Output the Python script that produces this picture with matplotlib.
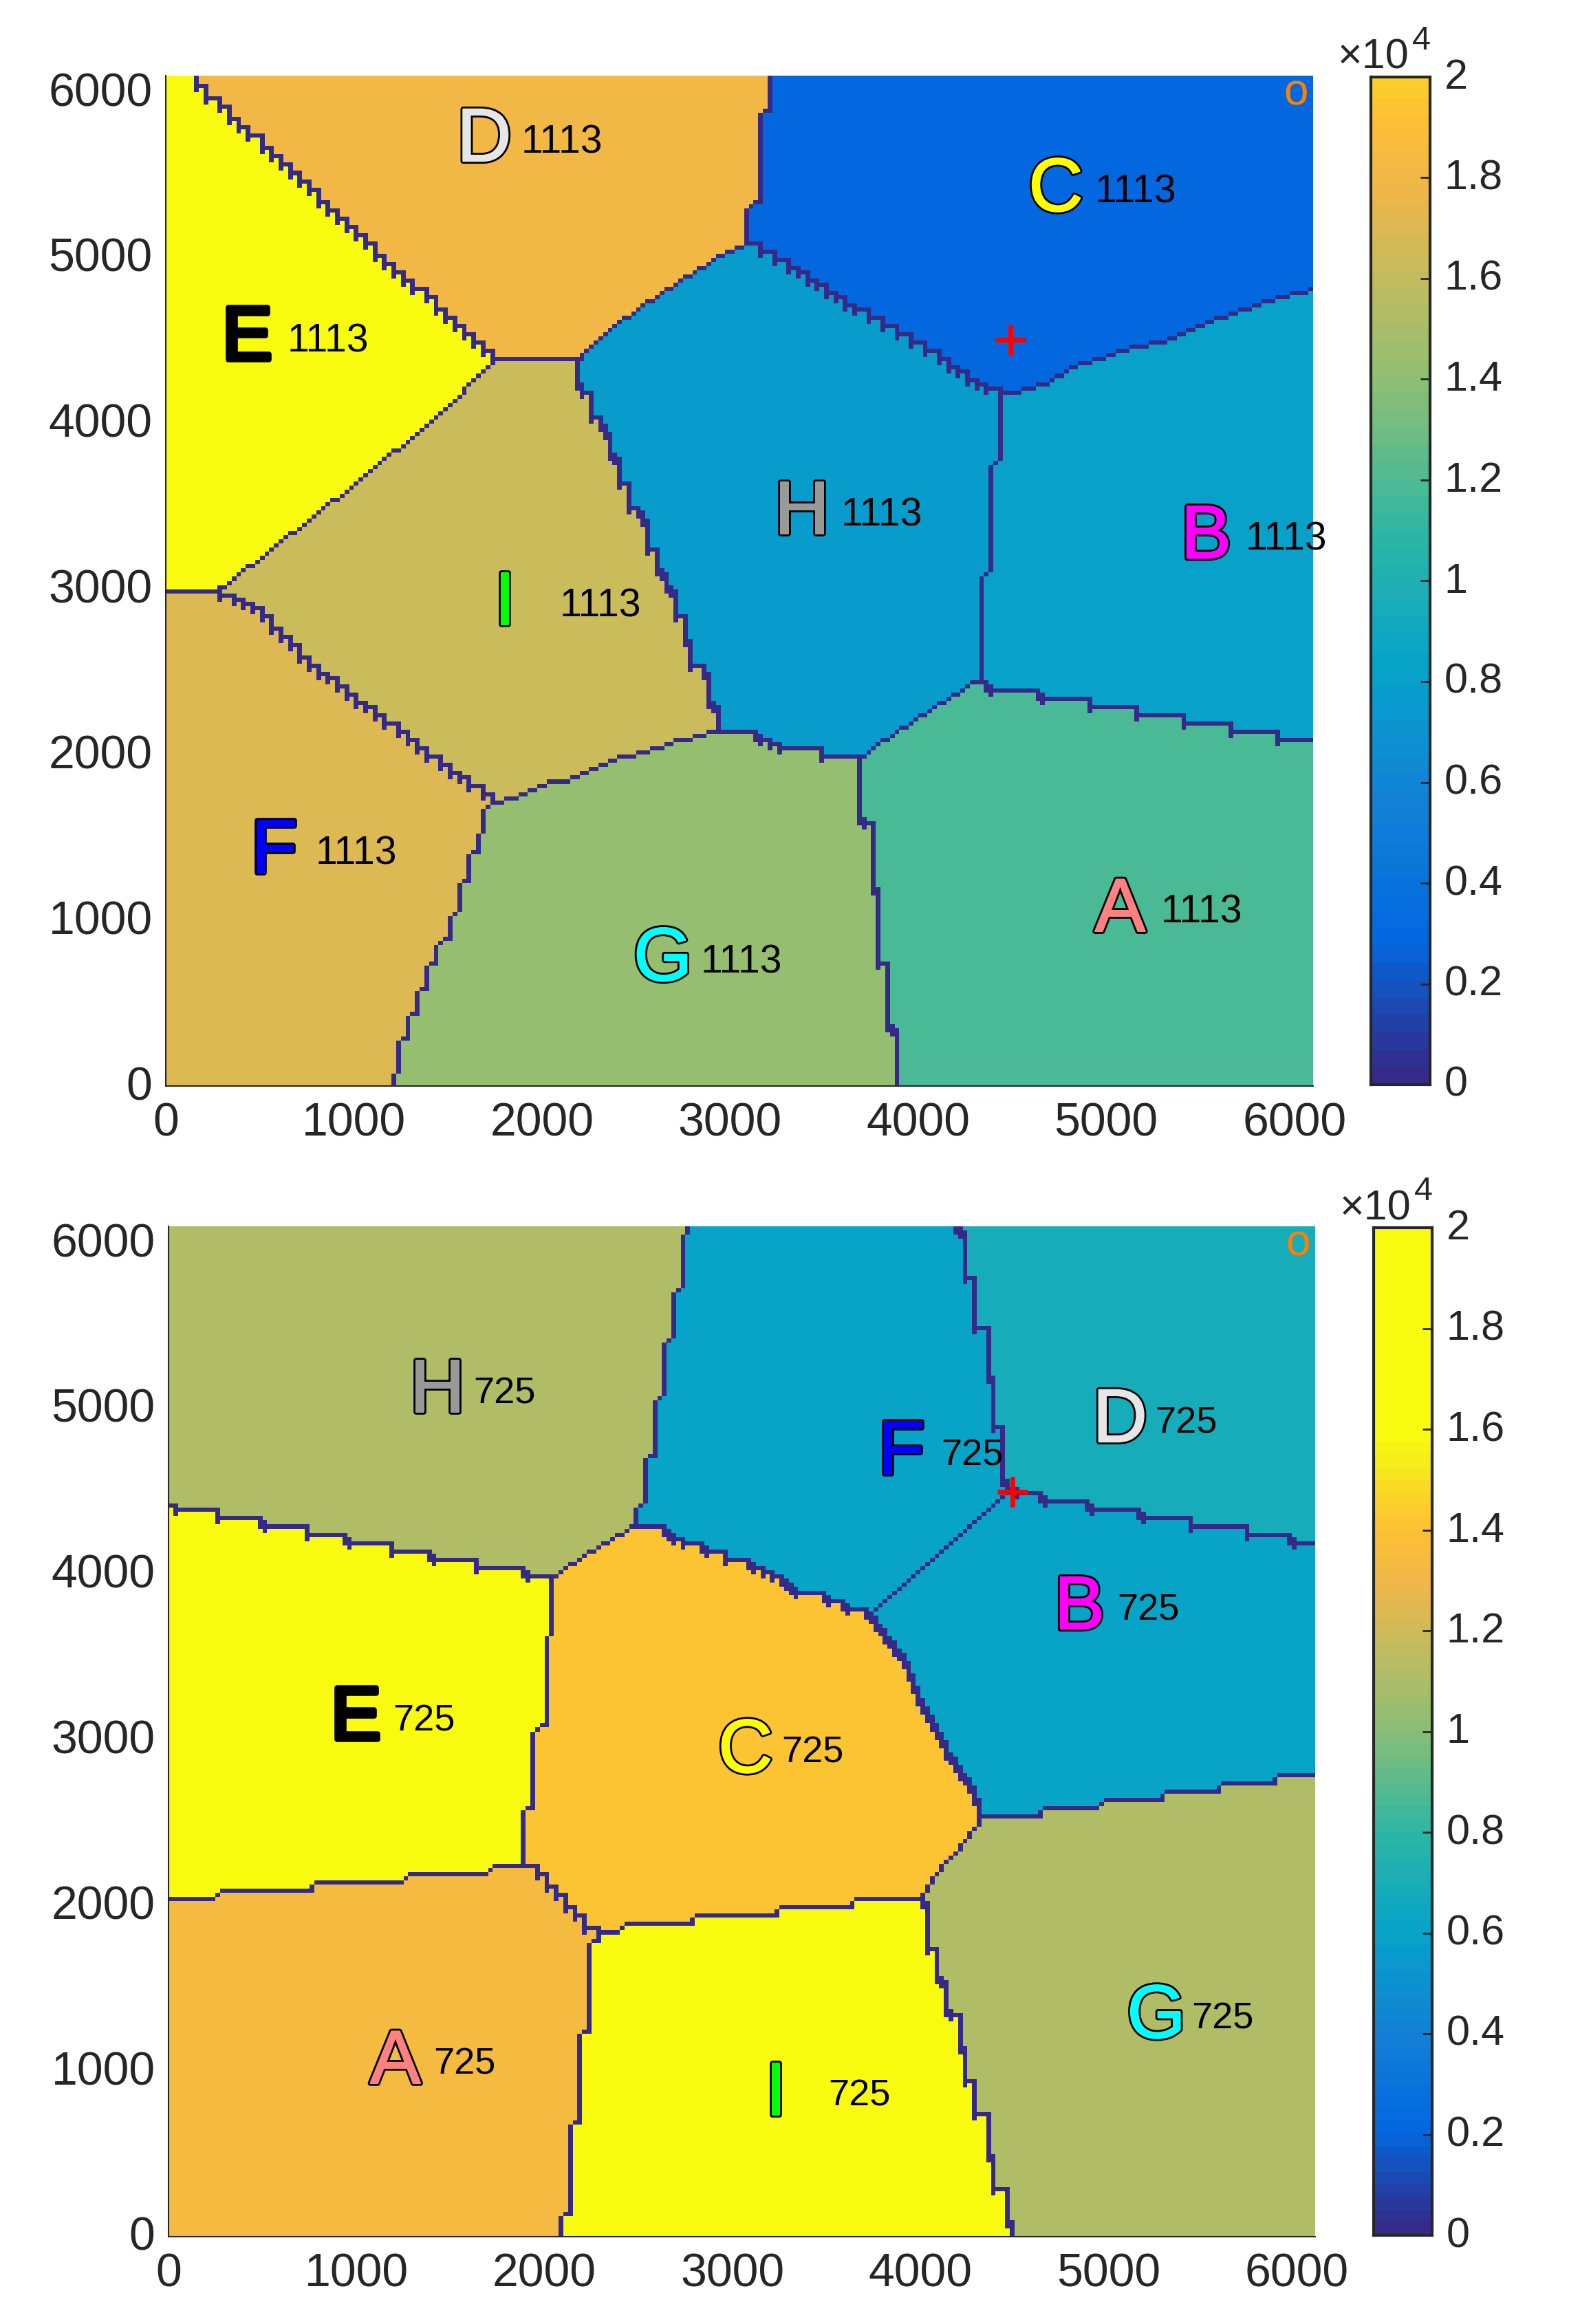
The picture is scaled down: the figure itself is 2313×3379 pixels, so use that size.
import numpy as np
import matplotlib
matplotlib.use("Agg")
import matplotlib.pyplot as plt
from matplotlib.path import Path
from matplotlib.colors import LinearSegmentedColormap
from matplotlib.transforms import ScaledTranslation
import matplotlib.patheffects as pe

plt.rcParams['font.family'] = ['Liberation Sans', 'DejaVu Sans']

W, H = 2313, 3379
LIM = 6100
CELL = 25
DARK = '#262626'

parula_pos = [0, .125, .25, .375, .5, .625, .75, .8125, .875, .92, .96, 1]
parula_col = ['#352A87', '#0368E0', '#1481D6', '#06A4CA', '#2EB7A4', '#87BF77',
              '#CDBB5B', '#F0B74A', '#FDBF36', '#FCD22A', '#F6EA1C', '#F9FB0E']

names = list("ABCDEFGHI")
letter_colors = ['#FF8080', '#FF00FF', '#FFFF00', '#E6E6E6', '#000000',
                 '#0000FF', '#00FFFF', '#999999', '#00FF00']

# ---------- upper map: shared borders between cells ----------
T_ED = [(92, 6100), (390, 5785), (1728, 4378)]
T_DI = [(1728, 4378), (1760, 4385), (2175, 4385)]
T_DH = [(2175, 4385), (2310, 4543), (2554, 4745), (2756, 4891), (2959, 5038), (3090, 5094)]
T_DC = [(3090, 5094), (3090, 5330), (3150, 5340), (3150, 5890), (3195, 5900), (3195, 6100)]
T_CH = [(3090, 5094), (3149, 5038), (3297, 4948), (3455, 4835), (3657, 4689), (3805, 4587),
        (3953, 4486), (4100, 4385), (4302, 4239), (4423, 4194)]
T_CB = [(4423, 4194), (4517, 4198), (4665, 4250), (4800, 4340), (4947, 4396), (5055, 4441),
        (5324, 4509), (5445, 4576), (5593, 4644), (5741, 4700), (5848, 4745), (5996, 4790), (6100, 4824)]
T_HB = [(4423, 4194), (4431, 3788), (4383, 3777), (4383, 3113), (4334, 3090), (4334, 2454)]
T_AB = [(4334, 2454), (4396, 2397), (4625, 2397), (4652, 2348), (4894, 2348), (4907, 2296),
        (5136, 2296), (5157, 2247), (5391, 2247), (5405, 2195), (5641, 2195), (5660, 2145),
        (5889, 2145), (5902, 2098), (6100, 2098)]
T_AH = [(3684, 1981), (3805, 2093), (3939, 2195), (4141, 2341), (4275, 2438), (4334, 2454)]
T_GH = [(2940, 2150), (3108, 2143), (3149, 2100), (3297, 2044), (3455, 2048), (3495, 1997),
        (3643, 1997), (3684, 1981)]
T_AG = [(3684, 1981), (3684, 1609), (3743, 1598), (3743, 1204), (3791, 1193), (3791, 754),
        (3840, 743), (3840, 360), (3891, 344), (3891, 0)]
T_IH = [(2175, 4385), (2196, 4205), (2243, 4194), (2243, 4059), (2297, 4048), (2345, 3946),
        (2345, 3811), (2399, 3800), (2399, 3653), (2445, 3642), (2445, 3507), (2499, 3496),
        (2548, 3406), (2548, 3259), (2594, 3248), (2594, 3113), (2648, 3102), (2648, 3028),
        (2694, 2994), (2694, 2859), (2743, 2848), (2743, 2701), (2792, 2690), (2792, 2555),
        (2846, 2544), (2892, 2442), (2892, 2307), (2940, 2296), (2940, 2150)]
T_EI = [(241, 2994), (335, 3057), (890, 3552), (1390, 4014), (1728, 4378)]
T_EF = [(0, 2994), (241, 2994)]
T_IF = [(241, 2994), (444, 2893), (755, 2544), (1106, 2240), (1499, 1902), (1728, 1722)]
T_IG = [(1728, 1722), (1837, 1745), (1985, 1824), (2134, 1857), (2256, 1925), (2391, 1981),
        (2540, 2026), (2689, 2082), (2846, 2127), (2940, 2150)]
T_FG = [(1728, 1722), (1688, 1677), (1688, 1553), (1647, 1542), (1647, 1418), (1593, 1396),
        (1593, 1249), (1545, 1238), (1545, 1058), (1493, 1047), (1493, 900), (1439, 878),
        (1439, 754), (1390, 736), (1390, 597), (1342, 585), (1342, 461), (1290, 439),
        (1290, 304), (1242, 281), (1242, 113), (1193, 90), (1193, 0)]

top_values = [11700, 7950, 2750, 17875, 22000, 17160, 14200, 7600, 16280]
top_letters_x = [5074, 5531, 4732, 1693, 433, 576, 2643, 3383, 1804]
top_letters_y = [1092, 3345, 5441, 5742, 4543, 1447, 795, 3491, 2944]
top_count_x = [5289, 5741, 4939, 1891, 646, 795, 2843, 3590, 2094]
top_count_y = [1074, 3322, 5420, 5720, 4520, 1425, 770, 3469, 2920]
top_count_label = "1113"
top_count_size = 41
top_clim = (0, 22000)
top_plus = (4490, 4504)

# ---------- lower map: shared borders between cells ----------
B_HE = [(0, 4430), (51, 4396), (241, 4396), (254, 4340), (471, 4340), (506, 4291), (714, 4291),
        (755, 4239), (917, 4239), (952, 4194), (1161, 4194), (1201, 4144), (1364, 4144),
        (1404, 4093), (1607, 4093), (1653, 4041), (1864, 4041), (1905, 3992), (2040, 3992)]
B_HC = [(2040, 3992), (2081, 4025), (2162, 4093), (2352, 4228), (2460, 4291), (2487, 4295)]
B_HF = [(2487, 4295), (2492, 4419), (2535, 4453), (2535, 4712), (2581, 4734), (2581, 5072),
        (2636, 5094), (2636, 5420), (2682, 5443), (2682, 5724), (2739, 5747), (2739, 6062), (2757, 6100)]
B_FC = [(2487, 4295), (2622, 4284), (2649, 4250), (2744, 4194), (2838, 4194), (2852, 4144),
        (2947, 4138), (2960, 4093), (3050, 4093), (3150, 4036), (3244, 3992), (3348, 3890),
        (3482, 3890), (3509, 3838), (3590, 3838), (3604, 3789), (3684, 3789), (3730, 3770)]
B_FB = [(3730, 3770), (4460, 4510)]
B_DF = [(4460, 4510), (4437, 4599), (4437, 4892), (4392, 4903), (4392, 5195), (4343, 5206),
        (4343, 5488), (4290, 5499), (4290, 5792), (4236, 5803), (4236, 6062), (4187, 6100)]
B_DB = [(4460, 4510), (4558, 4498), (4626, 4491), (4653, 4441), (4868, 4441), (4903, 4392),
        (5156, 4392), (5199, 4340), (5419, 4340), (5452, 4289), (5715, 4289), (5750, 4239),
        (5957, 4239), (5998, 4189), (6100, 4189)]
B_BC = [(3730, 3770), (3792, 3659), (3846, 3587), (3899, 3497), (3945, 3395), (3994, 3236),
        (4047, 3146), (4096, 3045), (4142, 2921), (4195, 2842), (4249, 2752), (4290, 2650), (4316, 2538)]
B_BG = [(4316, 2538), (4612, 2538), (4634, 2590), (4922, 2594), (4954, 2646), (5271, 2646),
        (5298, 2695), (5567, 2700), (5594, 2747), (5871, 2747), (5898, 2797), (6100, 2797)]
B_CG = [(4316, 2538), (4236, 2403), (4160, 2320), (4088, 2223), (3985, 2045)]
B_CI = [(3985, 2045), (3644, 2036), (3630, 1994), (3244, 1994), (3231, 1946), (2798, 1946),
        (2779, 1897), (2406, 1892), (2379, 1841), (2270, 1841), (2270, 1807)]
B_EC = [(2040, 3992), (2040, 3654), (1994, 3632), (1994, 3103), (1940, 3076), (1940, 2605),
        (1891, 2583), (1891, 2245)]
B_EA = [(1891, 2245), (1702, 2245), (1689, 2200), (1256, 2196), (1234, 2149), (755, 2144),
        (741, 2092), (254, 2092), (235, 2043), (0, 2043)]
B_AC = [(1891, 2245), (2270, 1807)]
B_AI = [(2270, 1807), (2238, 1784), (2238, 1255), (2189, 1233), (2189, 704), (2140, 682),
        (2140, 153), (2089, 130), (2089, 0)]
B_IG = [(3985, 2045), (4042, 1998), (4042, 1751), (4088, 1739), (4088, 1559), (4142, 1541),
        (4142, 1357), (4195, 1341), (4195, 1154), (4236, 1143), (4236, 956), (4290, 941),
        (4290, 754), (4343, 738), (4343, 502), (4389, 484), (4389, 304), (4443, 288),
        (4443, 101), (4491, 85), (4491, 0)]

bot_values = [13440, 6160, 14240, 6880, 19000, 6160, 11200, 11200, 19000]
bot_letters_x = [1207, 4846, 3069, 5062, 996, 3899, 5255, 1431, 3231]
bot_letters_y = [1084, 3827, 2962, 4957, 3159, 4763, 1359, 5135, 891]
bot_count_x = [1410, 5048, 3260, 5250, 1193, 4109, 5441, 1621, 3509]
bot_count_y = [1064, 3807, 2945, 4934, 3136, 4741, 1339, 5112, 873]
bot_count_label = "725"
bot_count_size = 39
bot_clim = (0, 16000)
bot_plus = (4491, 4498)

corner_o = (6010, 5994)
xticks = [0, 1000, 2000, 3000, 4000, 5000, 6000]
yticks = [0, 1000, 2000, 3000, 4000, 5000, 6000]
cbar_ticks = [0, 2000, 4000, 6000, 8000, 10000, 12000, 14000, 16000, 18000, 20000]
cbar_labels = ['0', '0.2', '0.4', '0.6', '0.8', '1', '1.2', '1.4', '1.6', '1.8', '2']


def rev(seg):
    return seg[::-1]


def chain(*parts):
    out = []
    for p in parts:
        out.extend(p)
    return out


def stair(seg, step=50):
    """Redraw a read-off border as the two-cell steps the falling diagonals show."""
    out = [seg[0]]
    for (x0, y0), (x1, y1) in zip(seg[:-1], seg[1:]):
        n = max(1, int(abs(x1 - x0) // step))
        xs = np.linspace(x0, x1, n + 1)
        ys = np.linspace(y0, y1, n + 1)
        for k in range(n):
            out.append((float(xs[k + 1]), float(ys[k])))
            out.append((float(xs[k + 1]), float(ys[k + 1])))
    return out


T_ED, T_IF, T_CH, B_AC = stair(T_ED), stair(T_IF), stair(T_CH), stair(B_AC)

top_cells = [
    chain(T_AB, [(6100, 0)], rev(T_AG), T_AH),                                  # A
    chain(T_CB, rev(T_AB), rev(T_HB)),                                          # B
    chain(rev(T_DC), T_CH, T_CB, [(6100, 6100)]),                               # C
    chain(T_ED, T_DI, T_DH, T_DC),                                              # D
    chain([(0, 6100)], T_ED, rev(T_EI), T_EF[::-1]),                            # E
    chain(T_EF, T_IF, T_FG, [(0, 0)]),                                          # F
    chain(T_AG, rev(T_FG), T_IG, T_GH),                                         # G
    chain(T_CH, T_HB, rev(T_AH), rev(T_GH), rev(T_IH), T_DH),                   # H
    chain(T_DI, T_IH, rev(T_IG), rev(T_IF), T_EI),                              # I
]
bot_cells = [
    chain(rev(B_EA), B_AC, B_AI, [(0, 0)]),                                     # A
    chain(B_DB, [(6100, 4189)], rev(B_BG), rev(B_BC), B_FB),                    # B
    chain(B_HC, B_FC, B_BC, B_CG, B_CI, rev(B_AC), rev(B_EC)),                  # C
    chain(rev(B_DB), B_DF, [(6100, 6100)]),                                     # D
    chain(B_HE, B_EC, B_EA),                                                    # E
    chain(rev(B_DF), rev(B_FB), rev(B_FC), B_HF),                               # F
    chain(B_BG, [(6100, 0)], rev(B_IG), rev(B_CG)),                             # G
    chain([(0, 6100)], rev(B_HF), rev(B_HC), rev(B_HE)),                        # H
    chain(rev(B_CI), B_IG, rev(B_AI)),                                          # I
]


def rasterize(cells, values):
    edges = np.arange(0, LIM + CELL, CELL)
    cen = edges[:-1] + CELL / 2
    xx, yy = np.meshgrid(cen, cen)
    # the dark cell sits left of / above the read-off line: nudge the test points
    px = np.clip(xx.ravel() - 20, 1, LIM - 1)
    py = np.clip(yy.ravel() + 18, 1, LIM - 1)
    pts = np.column_stack([px, py])
    lab = -np.ones(len(pts), dtype=int)
    for k, poly in enumerate(cells):
        inside = Path(np.array(poly + [poly[0]], float)).contains_points(pts)
        lab[inside] = k
    lab = lab.reshape(xx.shape)
    # fill any cell that no outline caught from its neighbour
    for j in range(lab.shape[0]):
        for i in range(lab.shape[1]):
            if lab[j, i] < 0:
                lab[j, i] = lab[j, i - 1] if i else lab[j - 1, i]
    z = np.array(values, float)[lab]
    mark = np.zeros_like(lab, dtype=bool)
    mark[:, :-1] |= lab[:, :-1] != lab[:, 1:]     # right neighbour differs
    mark[1:, :] |= lab[1:, :] != lab[:-1, :]      # neighbour below differs
    # notch of a falling step: up and right agree, the up-right corner does not
    c = lab[:-1, :-1]
    notch = (c == lab[:-1, 1:]) & (c == lab[1:, :-1]) & (c != lab[1:, 1:])
    mark[:-1, :-1] |= notch
    z[mark] = 0
    return z


def px_axes(fig, x0, y0, x1, y1):
    return fig.add_axes([x0 / W, 1 - y1 / H, (x1 - x0) / W, (y1 - y0) / H])


cmap = LinearSegmentedColormap.from_list('parula_like', list(zip(parula_pos, parula_col)), N=64)
fig = plt.figure(figsize=(W / 100, H / 100), dpi=100, facecolor='white')


def panel(box, cbox, cells, values, lx, ly, cx, cy, count, csize, clim, plus):
    ax = px_axes(fig, *box)
    z = rasterize(cells, values)
    ax.imshow(z, origin='lower', extent=[0, LIM, 0, LIM], aspect='auto', cmap=cmap,
              vmin=clim[0], vmax=clim[1], interpolation='nearest')
    ax.set_xlim(0, LIM)
    ax.set_ylim(0, LIM)
    for s in ('top', 'right'):
        ax.spines[s].set_visible(False)
    for s in ('left', 'bottom'):
        ax.spines[s].set_linewidth(1.5)
        ax.spines[s].set_color(DARK)
    ax.set_xticks(xticks)
    ax.set_yticks(yticks)
    ax.tick_params(axis='x', length=0, pad=16, labelsize=49, labelcolor=DARK)
    ax.tick_params(axis='y', length=0, pad=14, labelsize=49, labelcolor=DARK)
    shift = ScaledTranslation(0, 5 / 100, fig.dpi_scale_trans)
    for t in ax.get_yticklabels():
        t.set_transform(t.get_transform() + shift)

    letter_down = ax.transData + ScaledTranslation(0, -10 / 100, fig.dpi_scale_trans)
    count_down = ax.transData + ScaledTranslation(0, -6 / 100, fig.dpi_scale_trans)
    for k, name in enumerate(names):
        ax.text(lx[k], ly[k], name, fontsize=79, color=letter_colors[k], ha='center',
                va='center', clip_on=False, transform=letter_down,
                path_effects=[pe.Stroke(linewidth=5.5, foreground='black'),
                              pe.Stroke(linewidth=1.5, foreground=letter_colors[k]),
                              pe.Normal()])
        ax.text(cx[k], cy[k], count, fontsize=csize, color='black', ha='left', va='center',
                clip_on=False, transform=count_down)
    ax.text(corner_o[0], corner_o[1], 'o', fontsize=46, color='#FF8000', ha='center', va='center')
    ax.plot([plus[0]], [plus[1]], marker='+', ms=31, mew=5, color='#FF0000', ls='none')

    cax = px_axes(fig, *cbox)
    grad = np.linspace(0, 20000, 512).reshape(-1, 1)
    cax.imshow(grad, origin='lower', extent=[0, 1, 0, 20000], aspect='auto', cmap=cmap,
               vmin=clim[0], vmax=clim[1], interpolation='nearest')
    cax.set_xticks([])
    cax.yaxis.tick_right()
    cax.set_yticks(cbar_ticks, cbar_labels)
    cax.tick_params(axis='y', direction='in', length=10, width=2, color=DARK, pad=15,
                    labelsize=44, labelcolor=DARK)
    for t in cax.get_yticklabels():
        t.set_transform(t.get_transform() + shift)
    for s in cax.spines.values():
        s.set_linewidth(3)
        s.set_color(DARK)

    rx, ry = cbox[2] - 30, cbox[1] - 12
    fig.text(rx / W, 1 - ry / H, '\u00d710', fontsize=44, color=DARK, ha='right', va='baseline')
    fig.text((rx + 4) / W, 1 - (ry - 28) / H, '4', fontsize=35, color=DARK, ha='left', va='baseline')


panel((241, 110, 1909, 1579), (1993, 112, 2079, 1577), top_cells, top_values,
      top_letters_x, top_letters_y, top_count_x, top_count_y, top_count_label, top_count_size,
      top_clim, top_plus)
panel((245, 1783, 1912, 3252), (1997, 1785, 2082, 3250), bot_cells, bot_values,
      bot_letters_x, bot_letters_y, bot_count_x, bot_count_y, bot_count_label, bot_count_size,
      bot_clim, bot_plus)

fig.savefig('out.png', dpi=100, facecolor='white')
